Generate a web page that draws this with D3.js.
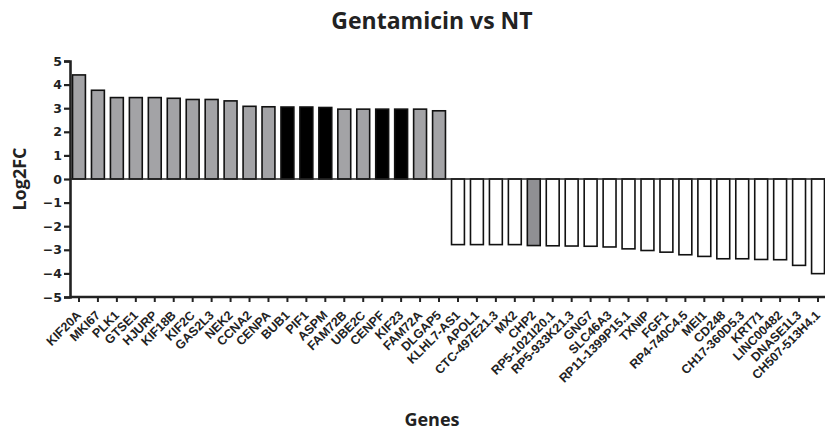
<!DOCTYPE html>
<html>
<head>
<meta charset="utf-8">
<script src="https://cdn.jsdelivr.net/npm/d3@7"></script>
<style>
  html, body { margin: 0; padding: 0; background: #fff; }
  svg { display: block; }
</style>
</head>
<body>
<div id="chart"></div>
<script>
// ---- data ----
const genes = ["KIF20A","MKI67","PLK1","GTSE1","HJURP","KIF18B","KIF2C","GAS2L3","NEK2","CCNA2",
  "CENPA","BUB1","PIF1","ASPM","FAM72B","UBE2C","CENPF","KIF23","FAM72A","DLGAP5",
  "KLHL7-AS1","APOL1","CTC-497E21.3","MX2","CHP2","RP5-1021I20.1","RP5-933K21.3","GNG7","SLC46A3","RP11-1399P15.1",
  "TXNIP","FGF1","RP4-740C4.5","MEI1","CD248","CH17-360D5.3","KRT71","LINC00482","DNASE1L3","CH507-513H4.1"];
const log2fc = [4.41,3.76,3.45,3.45,3.45,3.42,3.37,3.37,3.31,3.08,
  3.06,3.05,3.05,3.03,2.96,2.96,2.96,2.96,2.96,2.89,
  -2.78,-2.78,-2.78,-2.78,-2.82,-2.83,-2.84,-2.85,-2.88,-2.96,
  -3.03,-3.10,-3.21,-3.28,-3.38,-3.38,-3.41,-3.42,-3.66,-4.01];
// group: 0 = grey (up), 1 = black (up), 2 = white (down), 3 = grey (down)
const group = [0,0,0,0,0,0,0,0,0,0,
  0,1,1,1,0,0,1,1,0,0,
  2,2,2,2,3,2,2,2,2,2,
  2,2,2,2,2,2,2,2,2,2];
const yTicks = [5,4,3,2,1,0,-1,-2,-3,-4,-5];
const title = "Gentamicin vs NT";
const xTitle = "Genes";
const yTitle = "Log2FC";

// ---- chart ----
const W = 825, H = 433;
const svg = d3.select("#chart").append("svg").attr("width", W).attr("height", H);

const x = d3.scaleBand().domain(genes).range([69.5, 827.5]).paddingInner(0.32).paddingOuter(0.16);
const y = d3.scaleLinear().domain([-5, 5]).range([297, 61]);
const fills = ["#a3a3a6", "#000000", "#ffffff", "#8f8f93"];

const data = genes.map((g, i) => ({ g, v: log2fc[i], grp: group[i] }));

svg.append("g").selectAll("rect").data(data).join("rect")
  .attr("x", d => x(d.g))
  .attr("width", x.bandwidth())
  .attr("y", d => y(Math.max(0, d.v)))
  .attr("height", d => Math.abs(y(d.v) - y(0)))
  .attr("fill", d => fills[d.grp])
  .attr("stroke", "#111")
  .attr("stroke-width", 1.6);

// zero line
svg.append("line")
  .attr("x1", 70).attr("x2", W).attr("y1", y(0)).attr("y2", y(0))
  .attr("stroke", "#222").attr("stroke-width", 1.6);

// y axis
const yAxis = svg.append("g").attr("transform", "translate(70,0)")
  .call(d3.axisLeft(y).tickValues(yTicks).tickSize(6).tickPadding(2).tickFormat(d3.format("d")));
yAxis.select(".domain").attr("stroke", "#222").attr("stroke-width", 2.6);
yAxis.selectAll(".tick line").attr("stroke", "#222").attr("stroke-width", 2.2);
yAxis.selectAll("text").attr("font-family", "DejaVu Sans, sans-serif").attr("font-weight", "bold")
  .attr("font-size", 12.5).attr("fill", "#222");

// x axis
const xAxis = svg.append("g").attr("transform", `translate(0,${y(-5)})`)
  .call(d3.axisBottom(x).tickSize(5).tickSizeOuter(0));
xAxis.select(".domain").attr("stroke", "#222").attr("stroke-width", 2.6)
  .attr("d", `M70,0H${W}`);
xAxis.selectAll(".tick line").attr("stroke", "#222").attr("stroke-width", 2);
xAxis.selectAll("text")
  .attr("font-family", "Liberation Sans, Arial, sans-serif").attr("font-weight", "bold")
  .attr("font-size", 12.5).attr("fill", "#222")
  .attr("text-anchor", "end")
  .attr("dy", null).attr("y", 0)
  .attr("transform", "translate(3,19) rotate(-45)");

// titles
svg.append("text").attr("x", 432).attr("y", 29).attr("text-anchor", "middle")
  .attr("font-family", "Open Sans, sans-serif").attr("font-weight", "bold").attr("font-size", 23)
  .attr("fill", "#222").text(title);
svg.append("text").attr("x", 432).attr("y", 426).attr("text-anchor", "middle")
  .attr("font-family", "Open Sans, sans-serif").attr("font-weight", "bold").attr("font-size", 18)
  .attr("fill", "#222").text(xTitle);
svg.append("text").attr("transform", `translate(26,${y(0)}) rotate(-90)`).attr("text-anchor", "middle")
  .attr("font-family", "Open Sans, sans-serif").attr("font-weight", "bold").attr("font-size", 18)
  .attr("fill", "#222").text(yTitle);
</script>
</body>
</html>
